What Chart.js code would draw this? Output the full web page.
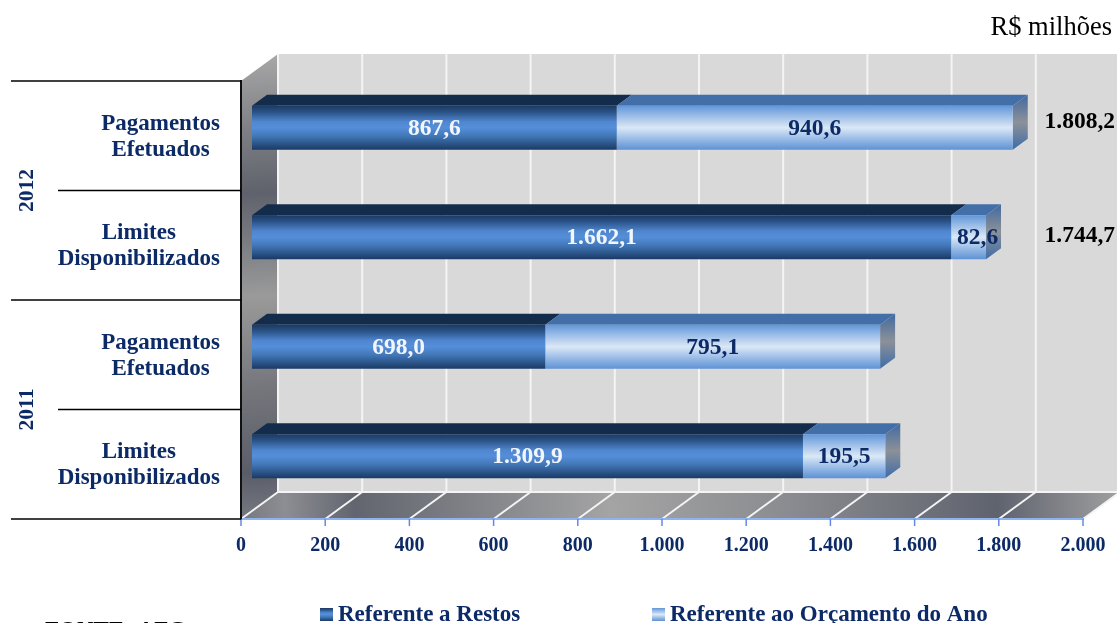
<!DOCTYPE html>
<html lang="pt-BR">
<head>
  <meta charset="UTF-8">
  <title>Pagamentos e limites</title>
  <script src="https://cdn.jsdelivr.net/npm/chart.js"></script>
  <style>
    html, body { margin: 0; padding: 0; background: #fff; overflow: hidden; }
    canvas { display: block; }
  </style>
</head>
<body>
  <canvas id="chart" width="1117" height="623"></canvas>

  <script>
    const categories = [['Pagamentos', 'Efetuados'], ['Limites', 'Disponibilizados'], ['Pagamentos', 'Efetuados'], ['Limites', 'Disponibilizados']];
    const years = ['2012', '2011'];
    const restos = [867.6, 1662.1, 698.0, 1309.9];
    const orcamento = [940.6, 82.6, 795.1, 195.5];
    const totals = [1808.2, 1744.7];
    const tickLabels = ['0', '200', '400', '600', '800', '1.000', '1.200', '1.400', '1.600', '1.800', '2.000'];
    const seriesNames = ['Referente a Restos', 'Referente ao Orçamento do Ano'];

    const SERIF = '"Liberation Serif", "Times New Roman", serif';
    const NAVY = '#0c2a66';
    // 3D look of the original
    const WALL_DX = 37, WALL_DY = 27;
    const BAR_SHIFT_X = 10.5, BAR_SHIFT_Y = -8;
    const BAR_DX = 15, BAR_DY = 11;

    function fmt(v) {
      const parts = v.toFixed(1).split('.');
      return parts[0].replace(/\B(?=(\d{3})+$)/g, '.') + ',' + parts[1];
    }

    function barGradient(c, top, bottom, stops) {
      const g = c.createLinearGradient(0, top, 0, bottom);
      stops.forEach(s => g.addColorStop(s[0], s[1]));
      return g;
    }
    const darkStops = [[0, '#1b3a63'], [0.14, '#2a5286'], [0.36, '#4f86cf'], [0.5, '#558ed9'], [0.68, '#4379b9'], [1, '#1a3a66']];
    const lightStops = [[0, '#6296d8'], [0.2, '#94b8e6'], [0.5, '#dbe8f6'], [0.78, '#93b7e5'], [1, '#5f92d4']];

    function scriptedFill(stops) {
      return function (ctx) {
        const chart = ctx.chart;
        if (!chart.chartArea) return '#4f86cf';
        const y = chart.scales.y.getPixelForValue(ctx.dataIndex);
        const half = chart.scales.y.height / categories.length * 0.4 / 2;
        return barGradient(chart.ctx, y - half, y + half, stops);
      };
    }

    const wallsPlugin = {
      id: 'walls',
      beforeDraw(chart) {
        const c = chart.ctx, a = chart.chartArea, x = chart.scales.x;
        // back wall
        c.fillStyle = '#d9d9d9';
        c.fillRect(a.left + WALL_DX, a.top - WALL_DY, chart.width - a.left - WALL_DX, a.height);

        // left wall
        let g = c.createLinearGradient(a.left, a.top - WALL_DY, a.left + WALL_DX * 0.6, a.bottom);
        g.addColorStop(0, '#a8a8a8');
        g.addColorStop(0.16, '#7f8085');
        g.addColorStop(0.3, '#5f626c');
        g.addColorStop(0.52, '#9a9a9a');
        g.addColorStop(0.72, '#75767c');
        g.addColorStop(0.9, '#5a5d68');
        g.addColorStop(1, '#777a82');
        c.fillStyle = g;
        c.beginPath();
        c.moveTo(a.left, a.top);
        c.lineTo(a.left + WALL_DX, a.top - WALL_DY);
        c.lineTo(a.left + WALL_DX, a.bottom - WALL_DY);
        c.lineTo(a.left, a.bottom);
        c.closePath();
        c.fill();

        // floor
        g = c.createLinearGradient(a.left, a.bottom, a.right + WALL_DX, a.bottom - WALL_DY);
        g.addColorStop(0, '#75777e');
        g.addColorStop(0.05, '#8d8e93');
        g.addColorStop(0.13, '#62656f');
        g.addColorStop(0.42, '#a4a4a4');
        g.addColorStop(0.62, '#8b8c90');
        g.addColorStop(0.86, '#5f636e');
        g.addColorStop(1, '#a0a0a0');
        c.fillStyle = g;
        c.beginPath();
        c.moveTo(a.left, a.bottom);
        c.lineTo(a.left + WALL_DX, a.bottom - WALL_DY);
        c.lineTo(a.right + WALL_DX, a.bottom - WALL_DY);
        c.lineTo(a.right, a.bottom);
        c.closePath();
        c.fill();

        // grid lines on wall and floor
        c.strokeStyle = '#f4f4f4';
        c.lineWidth = 2;
        x.ticks.forEach((t, i) => {
          const px = x.getPixelForTick(i);
          c.beginPath();
          c.moveTo(px + WALL_DX, a.top - WALL_DY);
          c.lineTo(px + WALL_DX, a.bottom - WALL_DY);
          c.stroke();
          c.beginPath();
          c.moveTo(px + WALL_DX, a.bottom - WALL_DY);
          c.lineTo(px, a.bottom);
          c.stroke();
        });
        c.beginPath();
        c.moveTo(a.left + WALL_DX, a.bottom - WALL_DY);
        c.lineTo(chart.width, a.bottom - WALL_DY);
        c.stroke();
      }
    };

    const bars3dPlugin = {
      id: 'bars3d',
      beforeDatasetsDraw(chart) {
        const c = chart.ctx;
        c.save();
        c.translate(BAR_SHIFT_X, BAR_SHIFT_Y);
        [0, 1].forEach(d => {
          const isLight = d === 1;
          chart.getDatasetMeta(d).data.forEach(el => {
            const top = el.y - el.height / 2, bot = el.y + el.height / 2;
            const l = Math.min(el.x, el.base), r = Math.max(el.x, el.base);
            // top face
            c.fillStyle = isLight ? '#426fa8' : '#132c4c';
            c.beginPath();
            c.moveTo(l, top);
            c.lineTo(l + BAR_DX, top - BAR_DY);
            c.lineTo(r + BAR_DX, top - BAR_DY);
            c.lineTo(r, top);
            c.closePath();
            c.fill();
            // end face, only the outer series shows one
            if (isLight) {
              const g = c.createLinearGradient(0, top - BAR_DY, 0, bot);
              g.addColorStop(0, '#41699f');
              g.addColorStop(0.5, '#8c9199');
              g.addColorStop(1, '#3f6ca8');
              c.fillStyle = g;
              c.beginPath();
              c.moveTo(r, top);
              c.lineTo(r + BAR_DX, top - BAR_DY);
              c.lineTo(r + BAR_DX, bot - BAR_DY);
              c.lineTo(r, bot);
              c.closePath();
              c.fill();
            }
          });
        });
      },
      afterDatasetsDraw(chart) {
        const c = chart.ctx;
        // values inside the bars
        c.textAlign = 'center';
        c.textBaseline = 'middle';
        c.font = 'bold 23.5px ' + SERIF;
        [0, 1].forEach(d => {
          const ds = chart.data.datasets[d];
          c.fillStyle = d === 0 ? '#f2f6fc' : NAVY;
          chart.getDatasetMeta(d).data.forEach((el, i) => {
            const nudge = d === 1 && i === 1 ? 9 : 0; // 82,6 sticks out past its bar
            c.fillText(fmt(ds.data[i]), (el.x + el.base) / 2 + nudge, el.y + 1);
          });
        });
        c.restore();
      }
    };

    const annotationsPlugin = {
      id: 'annotations',
      afterDraw(chart) {
        const c = chart.ctx, a = chart.chartArea, y = chart.scales.y, x = chart.scales.x;
        const band = y.height / categories.length;

        // tick marks under the floor
        c.strokeStyle = '#5f8ae8';
        c.lineWidth = 1.5;
        x.ticks.forEach((t, i) => {
          const px = x.getPixelForTick(i);
          c.beginPath();
          c.moveTo(px, a.bottom);
          c.lineTo(px, a.bottom + 7);
          c.stroke();
        });

        // separators left of the axis
        c.strokeStyle = '#000';
        c.lineWidth = 1.5;
        for (let i = 0; i <= categories.length; i++) {
          const py = y.getPixelForValue(i) - band / 2;
          c.beginPath();
          c.moveTo(i % 2 === 0 ? 11 : 58, py);
          c.lineTo(a.left, py);
          c.stroke();
        }

        // category labels: each line centred inside a block ending at x=220
        c.fillStyle = NAVY;
        c.font = 'bold 23px ' + SERIF;
        c.textAlign = 'center';
        c.textBaseline = 'middle';
        chart.data.labels.forEach((lines, i) => {
          const w = Math.max(...lines.map(s => c.measureText(s).width));
          const py = y.getPixelForValue(i);
          c.fillText(lines[0], 220 - w / 2, py - 12);
          c.fillText(lines[1], 220 - w / 2, py + 14);
        });

        // years
        c.font = 'bold 21.5px ' + SERIF;
        years.forEach((yr, i) => {
          const py = y.getPixelForValue(i * 2) + band / 2;
          c.save();
          c.translate(27, py);
          c.rotate(-Math.PI / 2);
          c.fillText(yr, 0, 0);
          c.restore();
        });

        // totals of 2012
        c.fillStyle = '#000';
        c.font = 'bold 23.5px ' + SERIF;
        c.textAlign = 'right';
        const totalsY = [-14, -9];
        totals.forEach((t, i) => {
          c.fillText(fmt(t), 1115, y.getPixelForValue(i) + totalsY[i]);
        });

        // unit
        c.font = '26.5px ' + SERIF;
        c.fillText('R$ milhões', 1112, 28);

        // legend
        c.textAlign = 'left';
        c.textBaseline = 'alphabetic';
        c.font = 'bold 23px ' + SERIF;
        const legendX = [320, 652];
        [darkStops, lightStops].forEach((stops, i) => {
          c.fillStyle = barGradient(c, 608, 621, stops);
          c.fillRect(legendX[i], 608, 13, 13);
          c.fillStyle = NAVY;
          c.fillText(seriesNames[i], legendX[i] + 18, 621);
        });

        // source line, cut off by the bottom of the image
        c.fillStyle = '#000';
        c.fillText('FONTE: AFC', 45, 636.5);
      }
    };

    new Chart(document.getElementById('chart').getContext('2d'), {
      type: 'bar',
      data: {
        labels: categories,
        datasets: [
          { label: seriesNames[0], data: restos, backgroundColor: scriptedFill(darkStops), clip: false },
          { label: seriesNames[1], data: orcamento, backgroundColor: scriptedFill(lightStops), clip: false }
        ]
      },
      options: {
        indexAxis: 'y',
        responsive: false,
        animation: false,
        layout: { padding: { top: 81, right: 34, left: 0, bottom: 0 } },
        plugins: { legend: { display: false }, tooltip: { enabled: false } },
        datasets: { bar: { barPercentage: 0.4, categoryPercentage: 1 } },
        scales: {
          x: {
            stacked: true,
            min: 0,
            max: 2000,
            afterFit(scale) { scale.height = 104; },
            afterBuildTicks(scale) { scale.ticks = tickLabels.map((t, i) => ({ value: i * 200 })); },
            grid: { drawOnChartArea: false, tickLength: 6, tickColor: 'transparent' },
            border: { color: '#8fb2f0', width: 2 },
            ticks: {
              autoSkip: false,
              maxRotation: 0,
              padding: 9,
              color: NAVY,
              font: { family: SERIF, size: 20, weight: 'bold' },
              callback: (v, i) => tickLabels[i]
            }
          },
          y: {
            stacked: true,
            afterFit(scale) { scale.width = 241; },
            grid: { drawOnChartArea: false, drawTicks: false },
            border: { color: '#111', width: 2 },
            ticks: { display: false }
          }
        }
      },
      plugins: [wallsPlugin, bars3dPlugin, annotationsPlugin]
    });
  </script>
</body>
</html>
